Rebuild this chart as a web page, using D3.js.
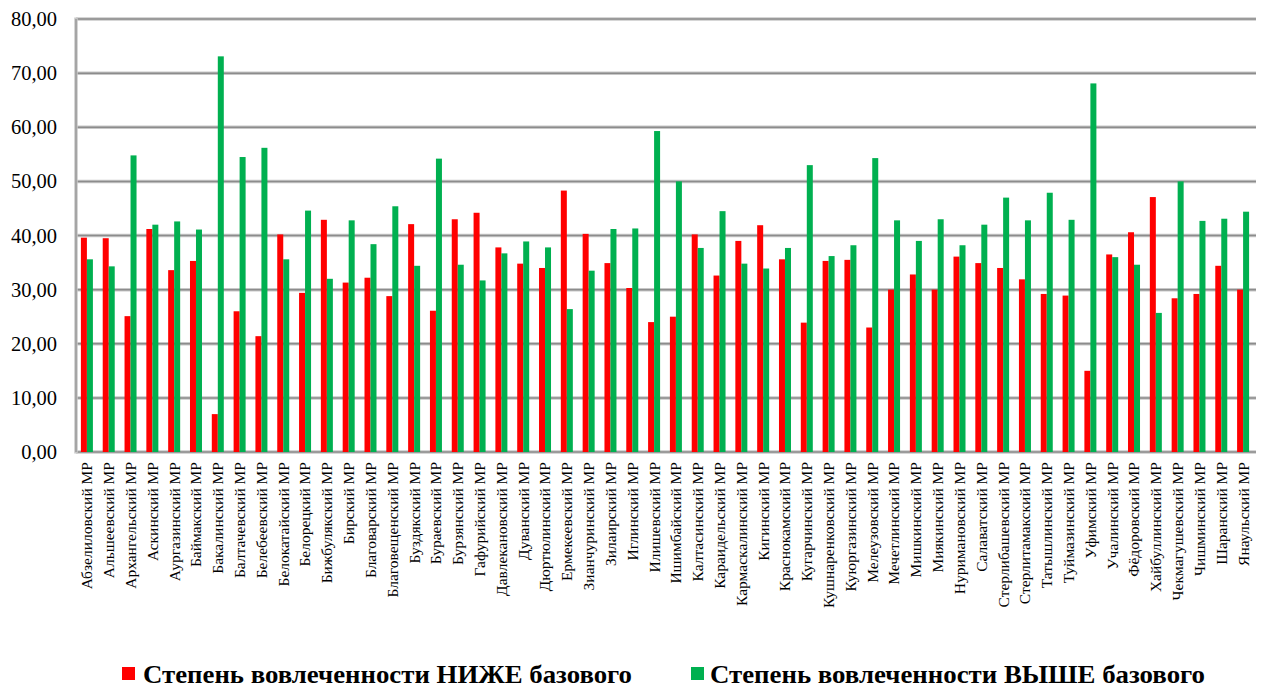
<!DOCTYPE html>
<html><head><meta charset="utf-8">
<script src="https://cdn.jsdelivr.net/npm/d3@7"></script>
<style>
html,body{margin:0;padding:0;background:#fff;}
svg{display:block;}
svg text{font-family:"Liberation Serif","Times New Roman",Tinos,"DejaVu Serif",serif !important;}
</style></head>
<body>
<svg id="chart" width="1261" height="688"></svg>
<script>
const categories = [
"Абзелиловский МР","Альшеевский МР","Архангельский МР","Аскинский МР","Аургазинский МР",
"Баймакский МР","Бакалинский МР","Балтачевский МР","Белебеевский МР","Белокатайский МР",
"Белорецкий МР","Бижбулякский МР","Бирский МР","Благоварский МР","Благовещенский МР",
"Буздякский МР","Бураевский МР","Бурзянский МР","Гафурийский МР","Давлекановский МР",
"Дуванский МР","Дюртюлинский МР","Ермекеевский МР","Зианчуринский МР","Зилаирский МР",
"Иглинский МР","Илишевский МР","Ишимбайский МР","Калтасинский МР","Караидельский МР",
"Кармаскалинский МР","Кигинский МР","Краснокамский МР","Кугарчинский МР","Кушнаренковский МР",
"Куюргазинский МР","Мелеузовский МР","Мечетлинский МР","Мишкинский МР","Миякинский МР",
"Нуримановский МР","Салаватский МР","Стерлибашевский МР","Стерлитамакский МР","Татышлинский МР",
"Туймазинский МР","Уфимский МР","Учалинский МР","Фёдоровский МР","Хайбуллинский МР",
"Чекмагушевский МР","Чишминский МР","Шаранский МР","Янаульский МР"
];
const belowValues = [
39.6,39.5,25.1,41.2,33.6,35.3,7.0,26.0,21.4,40.2,
29.4,42.9,31.3,32.2,28.8,42.1,26.1,43.0,44.2,37.8,
34.8,34.0,48.3,40.3,34.9,30.3,24.0,25.0,40.2,32.6,
39.0,41.9,35.6,23.9,35.3,35.5,23.0,30.0,32.8,30.0,
36.1,34.9,34.0,31.9,29.2,28.9,15.0,36.5,40.6,47.1,
28.4,29.2,34.4,30.0
];
const aboveValues = [
35.6,34.3,54.8,42.0,42.6,41.1,73.1,54.5,56.2,35.6,
44.6,32.0,42.8,38.4,45.4,34.4,54.2,34.6,31.7,36.7,
38.9,37.8,26.4,33.5,41.2,41.3,59.3,50.0,37.7,44.5,
34.8,33.9,37.7,53.0,36.2,38.2,54.3,42.8,39.0,43.0,
38.2,42.0,47.0,42.8,47.9,42.9,68.1,36.0,34.6,25.7,
50.0,42.7,43.1,44.4
];
const yTicks = [0,10,20,30,40,50,60,70,80];
const seriesNames = ["Степень вовлеченности НИЖЕ базового","Степень вовлеченности ВЫШЕ базового"];
const seriesColors = ["#ff0000","#00b050"];

const svg = d3.select("#chart");
const m = {left:76, right:1256, top:19, bottom:452};

const x = d3.scaleBand().domain(categories).range([m.left, m.right - 2]).paddingInner(0).paddingOuter(0);
const y = d3.scaleLinear().domain([0,80]).range([m.bottom, m.top]);

// gridlines
const grid = svg.append("g");
grid.selectAll("line.g").data(yTicks).join("line")
  .attr("x1", m.left).attr("x2", m.right)
  .attr("y1", d=>y(d)).attr("y2", d=>y(d))
  .attr("stroke","#c8c8c8").attr("stroke-width",3.5);
grid.selectAll("line.g2").data(yTicks).join("line")
  .attr("x1", m.left).attr("x2", m.right)
  .attr("y1", d=>y(d)).attr("y2", d=>y(d))
  .attr("stroke","#8c8c8c").attr("stroke-width",1.5);
grid.append("line").attr("x1",m.left).attr("x2",m.left).attr("y1",m.top-1.5).attr("y2",m.bottom+1.5)
  .attr("stroke","#c8c8c8").attr("stroke-width",3.5);
grid.append("line").attr("x1",m.left).attr("x2",m.left).attr("y1",m.top).attr("y2",m.bottom)
  .attr("stroke","#9a9a9a").attr("stroke-width",1.5);

// y labels
const yAxis = d3.axisLeft(y).tickValues(yTicks).tickSize(0).tickPadding(0)
  .tickFormat(d => d3.format(".2f")(d).replace(".", ","));
const ya = svg.append("g").attr("transform",`translate(57,0)`).call(yAxis);
ya.select(".domain").remove();
ya.selectAll("text").style("font-size","20.5px").attr("fill","#000").attr("dy","0.32em");

// bars
const bw = 6;
const bars = svg.append("g");
bars.selectAll("rect.below").data(categories).join("rect")
  .attr("x", d => x(d) + x.bandwidth()/2 - bw)
  .attr("width", bw)
  .attr("y", (d,i)=>y(belowValues[i]))
  .attr("height", (d,i)=>y(0)-y(belowValues[i]))
  .attr("fill", seriesColors[0]);
bars.selectAll("rect.above").data(categories).join("rect")
  .attr("x", d => x(d) + x.bandwidth()/2)
  .attr("width", bw)
  .attr("y", (d,i)=>y(aboveValues[i]))
  .attr("height", (d,i)=>y(0)-y(aboveValues[i]))
  .attr("fill", seriesColors[1]);

// x labels
const xAxis = d3.axisBottom(x).tickSize(0).tickPadding(0);
const xa = svg.append("g").attr("transform",`translate(0,${m.bottom})`).call(xAxis);
xa.select(".domain").remove();
xa.selectAll("text")
  .style("font-size","15.5px").attr("fill","#000")
  .attr("text-anchor","end")
  .attr("transform","rotate(-90)")
  .attr("x",-10).attr("y",0).attr("dy","0.35em");

// legend
const legend = svg.append("g");
const legX = [122, 691];
const textX = [143, 710];
const textW = [489, 495];
seriesNames.forEach((n,i)=>{
  legend.append("rect").attr("x",legX[i]).attr("y",667).attr("width",13).attr("height",13).attr("fill",seriesColors[i]);
  legend.append("text").attr("x",textX[i]).attr("y",683)
    .style("font-weight","bold").style("font-size","25px")
    .attr("textLength",textW[i]).attr("lengthAdjust","spacingAndGlyphs")
    .attr("fill","#000").text(n);
});
</script>
</body></html>
